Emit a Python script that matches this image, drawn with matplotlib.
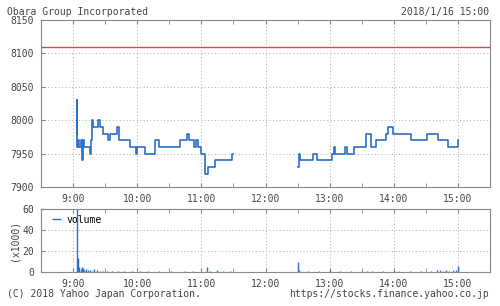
import matplotlib
matplotlib.use("Agg")
import matplotlib.pyplot as plt
from matplotlib.ticker import MultipleLocator, FixedLocator

title = "Obara Group Incorporated"
stamp = "2018/1/16 15:00"
prev_close = 8110

# price, morning session (time, price)
am_times = ["9:04", "9:04", "9:04", "9:05", "9:06", "9:07", "9:08", "9:09", "9:10",
            "9:16", "9:17", "9:18", "9:19", "9:23", "9:25", "9:28", "9:33", "9:35",
            "9:41", "9:43", "9:53", "9:59", "10:00", "10:07", "10:17", "10:20",
            "10:40", "10:47", "10:48", "10:53", "10:55", "10:57", "11:00", "11:03",
            "11:06", "11:13", "11:29", "11:30"]
am_price = [7980, 8030, 7960, 7970, 7960, 7970, 7940, 7970, 7960,
            7950, 7970, 8000, 7990, 8000, 7990, 7980, 7970, 7980,
            7990, 7970, 7960, 7950, 7960, 7950, 7970, 7960,
            7970, 7980, 7970, 7960, 7970, 7960, 7950, 7920,
            7930, 7940, 7950, 7950]

# price, afternoon session
pm_times = ["12:30", "12:31", "12:31", "12:32", "12:44", "12:48", "13:02", "13:04",
            "13:05", "13:14", "13:16", "13:23", "13:34", "13:39", "13:43", "13:53",
            "13:55", "13:59", "14:16", "14:31", "14:41", "14:51", "15:00"]
pm_price = [7930, 7940, 7950, 7940, 7950, 7940, 7950, 7960,
            7950, 7960, 7950, 7960, 7980, 7960, 7970, 7980,
            7990, 7980, 7970, 7980, 7970, 7960, 7970]

# volume (x1000), only minutes with trades
vol_times = ["9:04", "9:05", "9:06", "9:07", "9:08", "9:09", "9:10", "9:12", "9:14",
             "9:16", "9:18", "9:20", "9:22", "9:25", "9:28", "9:32", "9:36", "9:42",
             "9:48", "9:55", "10:03", "10:10", "10:20", "10:32", "10:45", "10:52",
             "11:05", "11:08", "11:15", "11:20", "11:27",
             "12:30", "12:31", "12:40", "12:50", "13:00", "13:10", "13:20", "13:30",
             "13:35", "13:40", "13:50", "14:00", "14:05", "14:15", "14:25", "14:35",
             "14:40", "14:43", "14:46", "14:49", "14:52", "14:55", "14:58", "15:00"]
vol_vals = [60, 13, 5, 3, 5, 4, 2, 3, 2,
            2, 1, 3, 2, 1, 1, 1, 1, 0.8,
            0.8, 0.7, 0.6, 0.6, 0.8, 0.6, 0.7, 0.6,
            5, 1, 1.5, 1, 0.6,
            10, 2, 0.8, 0.8, 2, 0.8, 0.8, 1,
            1, 0.8, 0.7, 1, 0.7, 0.7, 0.6, 0.8,
            1.5, 1.5, 1.2, 1.5, 1.2, 1.5, 1.5, 6]

hour_labels = ["9:00", "10:00", "11:00", "12:00", "13:00", "14:00", "15:00"]


def to_h(t):
    h, m = t.split(":")
    return int(h) + int(m) / 60


blue = "#2a70c8"
grey = "#888888"
txt = "#444444"
font = "DejaVu Sans Mono"
plt.rcParams["font.family"] = font
plt.rcParams["font.size"] = 7

fig = plt.figure(figsize=(5, 3.06), dpi=100)
ax = fig.add_axes([41 / 500, 1 - 187 / 306, 449 / 500, 167 / 306])
axv = fig.add_axes([41 / 500, 1 - 272 / 306, 449 / 500, 63 / 306])

hours = [to_h(t) for t in hour_labels]
for a in (ax, axv):
    a.set_xlim(8.5, 15.5)
    a.xaxis.set_major_locator(FixedLocator(hours))
    a.set_xticklabels(hour_labels)
    a.xaxis.set_minor_locator(MultipleLocator(0.5))
    a.grid(True, which="major", linestyle=(0, (1, 2.5)), color="#aaaaaa", linewidth=0.7)
    a.tick_params(which="both", direction="in", top=True, right=False, colors=grey,
                  labelcolor=txt, labelsize=7, length=3, pad=5)
    for s in a.spines.values():
        s.set_color(grey)

ax.step([to_h(t) for t in am_times], am_price, where="post", color=blue, lw=1.2)
ax.step([to_h(t) for t in pm_times], pm_price, where="post", color=blue, lw=1.2)
ax.axhline(prev_close, color="#e04848", lw=1)
ax.set_ylim(7900, 8150)
ax.yaxis.set_major_locator(MultipleLocator(50))

axv.vlines([to_h(t) for t in vol_times], 0, vol_vals, color=blue, lw=1, label="volume")
axv.set_ylim(0, 60)
axv.yaxis.set_major_locator(MultipleLocator(20))
axv.set_ylabel("(x1000)", color=txt, fontsize=7, labelpad=2)
axv.legend(loc="upper left", frameon=False, fontsize=7, handlelength=1,
           handletextpad=0.5, borderaxespad=0.2, bbox_to_anchor=(0.011, 1.0))

fig.text(7 / 500, 1 - 12 / 306, title, ha="left", va="center", color=txt, fontsize=7)
fig.text(489 / 500, 1 - 12 / 306, stamp, ha="right", va="center", color=txt, fontsize=7)
fig.text(7 / 500, 1 - 294 / 306, "(C) 2018 Yahoo Japan Corporation.", ha="left",
         va="center", color=txt, fontsize=7)
fig.text(489 / 500, 1 - 294 / 306, "https://stocks.finance.yahoo.co.jp", ha="right",
         va="center", color=txt, fontsize=7)

fig.savefig("out.png", dpi=100, facecolor="white")
